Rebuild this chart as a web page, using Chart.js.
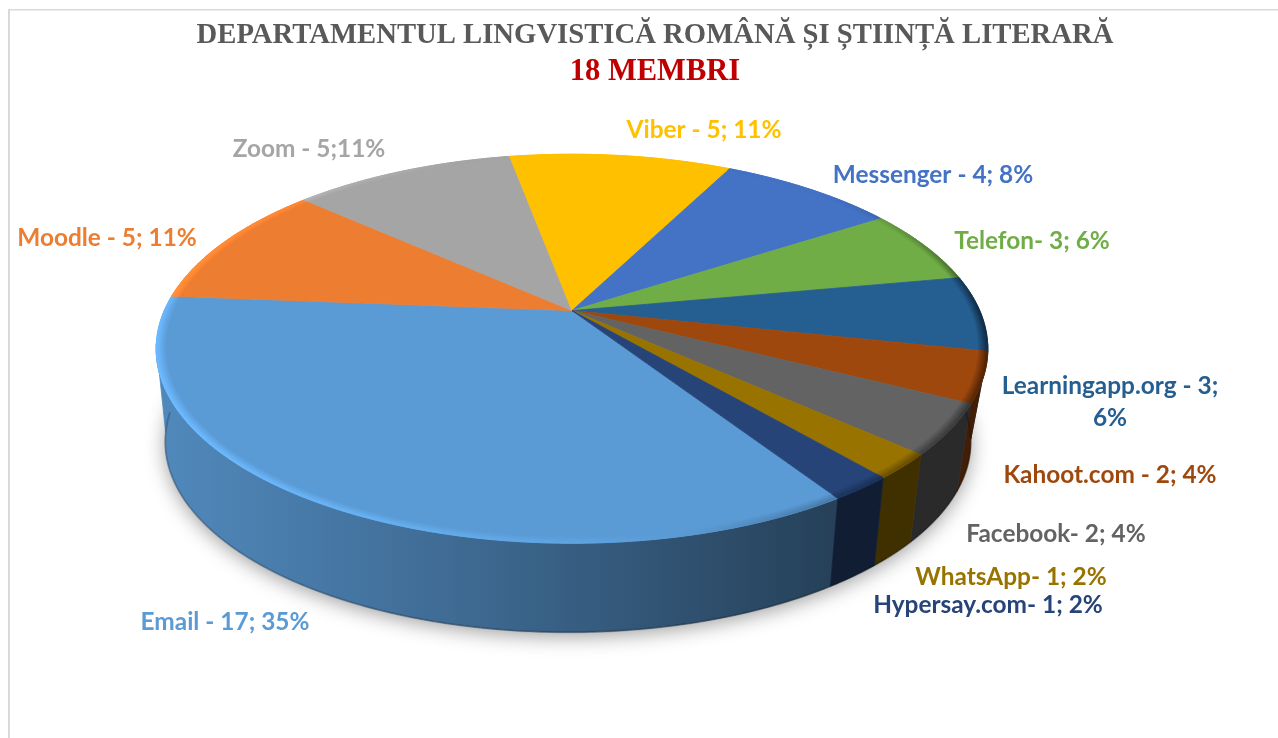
<!DOCTYPE html>
<html>
<head>
<meta charset="utf-8">
<style>html,body{margin:0;padding:0;background:#fff}canvas{display:block}</style>
<script src="https://cdn.jsdelivr.net/npm/chart.js@4"></script>
</head>
<body>
<canvas id="c" width="1278" height="738"></canvas>
<script>
const categories = ['Email','Moodle','Zoom','Viber','Messenger','Telefon','Learningapp.org','Kahoot.com','Facebook','WhatsApp','Hypersay.com'];
const values = [17,5,5,5,4,3,3,2,2,1,1];
const colors = ['#5B9BD5','#ED7D31','#A5A5A5','#FFC000','#4472C4','#70AD47','#255E91','#9E480E','#636363','#997300','#264478'];
const labelLines = [
  ['Email - 17; 35%'],['Moodle - 5; 11%'],['Zoom - 5;11%'],['Viber - 5; 11%'],['Messenger - 4; 8%'],['Telefon- 3; 6%'],
  ['Learningapp.org - 3;','6%'],['Kahoot.com - 2; 4%'],['Facebook- 2; 4%'],['WhatsApp- 1; 2%'],['Hypersay.com- 1; 2%']
];
const titleText = 'DEPARTAMENTUL LINGVISTICĂ ROMÂNĂ ȘI ȘTIINȚĂ LITERARĂ';
const subtitleText = '18 MEMBRI';

// label centres on the page (layout, not data)
const labelCentres = [[225,622],[107,238],[309,149],[704,130],[933,175],[1032,241],[1110,386],[1110,475],[1056,534],[1011,577],[988,605]];
const labelFont = 'bold 24.4px Lato, sans-serif';
const labelLineGap = 32;

// perspective view of the pie plate: offsets/scales relative to the library's arc geometry
const view = {
  dx:-83, dy:-1.9,
  topRx:1.597, topRy:0.747, topK:-0.196,
  botDx:-87, botDy:91.1, botRx:1.547, botRy:0.732, botK:-0.22
};

function hexRgb(h){const n=parseInt(h.slice(1),16);return [n>>16&255,n>>8&255,n&255];}
function shade(rgb,f){return 'rgb('+rgb.map(c=>Math.max(0,Math.min(255,Math.round(c*f)))).join(',')+')';}
function boost(r,a,k){
  const u=r*Math.cos(a),v=r*Math.sin(a),w=1+k*v;
  return [u*Math.sqrt(1-k*k)/w,(v+k)/w];
}

const plate3d = {
  id:'plate3d',
  beforeDraw(chart){
    const c=chart.ctx;
    c.save();c.fillStyle='#D9D9D9';
    c.fillRect(8,9,2,chart.height-9);
    c.fillRect(8,9,chart.width-8,1.5);
    c.restore();
  },
  beforeDatasetsDraw(chart){
    const ctx=chart.ctx, arcs=chart.getDatasetMeta(0).data, a0=arcs[0], R=a0.outerRadius;
    const cx=a0.x+view.dx, cy=a0.y+view.dy;
    const rx=view.topRx*R, ry=view.topRy*R;
    const bx=a0.x+view.botDx, by=a0.y+view.botDy, brx=view.botRx*R, bry=view.botRy*R;
    const P=(r,a)=>{const b=boost(r,a,view.topK);return [cx+rx*b[0],cy+ry*b[1]];};
    const Q=(a)=>{const b=boost(1,a,view.botK);return [bx+brx*b[0],by+bry*b[1]];};
    const poly=(pts,fill)=>{
      ctx.beginPath();pts.forEach((p,i)=>i?ctx.lineTo(p[0],p[1]):ctx.moveTo(p[0],p[1]));ctx.closePath();
      ctx.fillStyle=fill;ctx.strokeStyle=fill;ctx.lineWidth=0.8;ctx.fill();ctx.stroke();
    };
    const step=Math.PI/360;

    // soft ground shadow
    ctx.save();
    ctx.shadowColor='rgba(0,0,0,0.38)';ctx.shadowBlur=20;ctx.shadowOffsetY=4;
    ctx.fillStyle='#fff';ctx.beginPath();ctx.ellipse(bx,by,brx,bry,0,0,Math.PI*2);ctx.fill();
    ctx.restore();

    // side wall: one gradient-filled shape per slice
    const gx0=cx-0.97*rx, gx1=cx+0.62*rx;
    arcs.forEach(arc=>{
      const rgb=hexRgb(arc.options.backgroundColor);
      const top=[],bot=[];
      for(let a=arc.startAngle;;a+=step){
        const e=Math.min(a,arc.endAngle);
        if(boost(1,e,view.topK)[1]>=-0.03){top.push(P(1,e));bot.push(Q(e));}
        if(a>=arc.endAngle) break;
      }
      if(!top.length) return;
      const g=ctx.createLinearGradient(gx0,0,gx1,0);
      g.addColorStop(0,shade(rgb,0.88));g.addColorStop(0.5,shade(rgb,0.66));g.addColorStop(1,shade(rgb,0.42));
      poly(top.concat(bot.reverse()),g);
    });
    // darker bottom lip of the wall
    ctx.save();ctx.beginPath();
    for(let a=Math.PI*0.02;a<Math.PI*0.98;a+=step){const q=Q(a);a<Math.PI*0.02+step?ctx.moveTo(q[0],q[1]):ctx.lineTo(q[0],q[1]);}
    ctx.strokeStyle='rgba(0,0,0,0.2)';ctx.lineWidth=2;ctx.stroke();ctx.restore();

    // top faces
    arcs.forEach(arc=>{
      const pts=[P(0,0)];
      for(let a=arc.startAngle;a<arc.endAngle;a+=step) pts.push(P(1,a));
      pts.push(P(1,arc.endAngle));
      poly(pts,arc.options.backgroundColor);
    });
    // bevel along the rim: light at lower-left, dark at right
    const bands=5,w=0.0042;
    arcs.forEach(arc=>{
      const rgb=hexRgb(arc.options.backgroundColor);
      for(let a=arc.startAngle;a<arc.endAngle-1e-6;a+=step){
        const e=Math.min(a+step,arc.endAngle);
        const n=boost(1,(a+e)/2,view.topK);
        const s=-0.97*n[0]+0.26*n[1];
        const fade=Math.max(0,Math.min(1,(n[1]+0.8)/0.6));
        for(let i=bands-1;i>=0;i--){
          const amt=1-i/bands;
          const f=s>0?1+0.2*s*amt:1-0.5*(-s)*amt*fade;
          const r1=1-i*w,r2=1-(i+1)*w;
          poly([P(r1,a),P(r1,e),P(r2,e),P(r2,a)],shade(rgb,f));
        }
      }
    });
    return false;
  },
  afterDraw(chart){
    const ctx=chart.ctx;
    ctx.save();ctx.font=labelFont;ctx.textAlign='center';ctx.textBaseline='middle';
    labelLines.forEach((lines,i)=>{
      ctx.fillStyle=colors[i];
      lines.forEach((t,j)=>ctx.fillText(t,labelCentres[i][0],labelCentres[i][1]+j*labelLineGap));
    });
    ctx.restore();
  }
};

new Chart(document.getElementById('c'),{
  type:'pie',
  data:{labels:categories,datasets:[{data:values,backgroundColor:colors,borderWidth:0}]},
  options:{
    responsive:false,animation:false,rotation:147,
    layout:{padding:{left:32,right:0,top:0,bottom:127}},
    plugins:{
      legend:{display:false},tooltip:{enabled:false},
      title:{display:true,text:titleText,color:'#595959',font:{family:'"Liberation Serif",serif',size:28.7,weight:'bold'},padding:{top:18,bottom:0}},
      subtitle:{display:true,text:subtitleText,color:'#C00000',font:{family:'"Liberation Serif",serif',size:30.5,weight:'bold'},padding:{top:1.2,bottom:0}}
    }
  },
  plugins:[plate3d]
});
</script>
</body>
</html>
